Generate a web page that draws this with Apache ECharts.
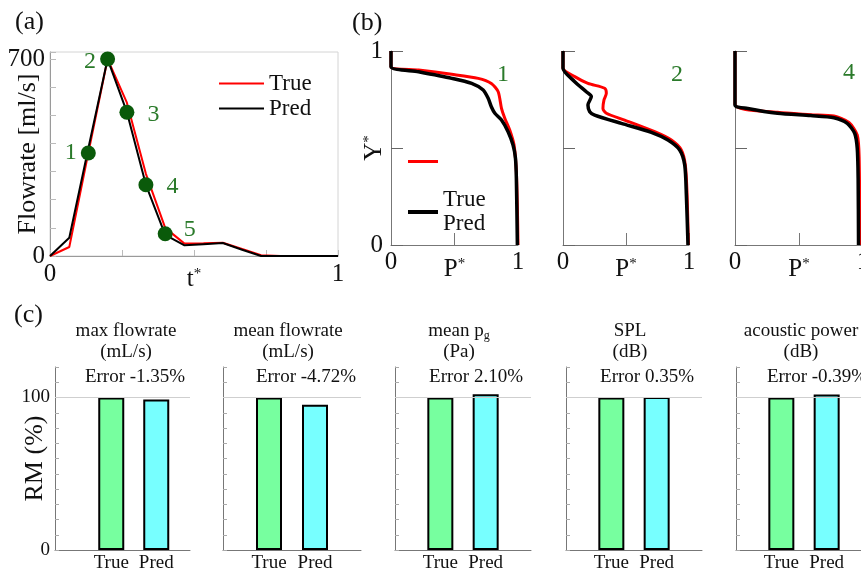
<!DOCTYPE html>
<html><head><meta charset="utf-8">
<script src="https://cdn.jsdelivr.net/npm/echarts@6/dist/echarts.min.js"></script>
<style>html,body{margin:0;padding:0;background:#fff}#c{width:861px;height:572px}</style>
</head><body><div id="c"></div>
<script>
// ================= DATA =================
// (a) flowrate waveform
const tVals     = [0, 0.067, 0.133, 0.2, 0.267, 0.333, 0.4, 0.467, 0.533, 0.6, 0.667, 0.733, 0.8, 0.867, 0.933, 1];
const flowTrue  = [0, 32, 366, 700, 545, 292, 100, 44, 45, 47, 25, 3, 0, 0, 0, 0];
const flowPred  = [0, 65, 382, 700, 511, 253, 75, 38, 42, 46, 22, 0, 0, 0, 0, 0];
const ptT       = [0.133, 0.2, 0.267, 0.333, 0.4];
const ptQ       = [366, 700, 511, 253, 79];
const ptNames   = ['1', '2', '3', '4', '5'];
const flowTicks = [0, 700];

// (b) pressure profiles  P* (x) vs Y* (y)
const prof1TrueP = [0, 0, 0.217, 0.478, 0.687, 0.79, 0.844, 0.87, 0.896, 0.935, 0.969, 0.987, 0.995, 1.0];
const prof1TrueY = [1, 0.919, 0.902, 0.88, 0.859, 0.833, 0.79, 0.704, 0.653, 0.593, 0.515, 0.378, 0.2, 0];
const prof1PredP = [0, 0, 0.217, 0.478, 0.635, 0.726, 0.765, 0.79, 0.818, 0.87, 0.922, 0.961, 0.98, 0.987, 0.995];
const prof1PredY = [1, 0.919, 0.893, 0.859, 0.833, 0.799, 0.756, 0.713, 0.679, 0.644, 0.584, 0.515, 0.447, 0.344, 0];

const prof2TrueP = [0, 0, 0.093, 0.198, 0.331, 0.344, 0.325, 0.317, 0.344, 0.489, 0.728, 0.86, 0.939, 0.971, 0.985, 0.995];
const prof2TrueY = [1, 0.911, 0.868, 0.833, 0.808, 0.782, 0.747, 0.704, 0.679, 0.644, 0.584, 0.541, 0.49, 0.412, 0.258, 0];
const prof2PredP = [0, 0, 0.093, 0.185, 0.225, 0.198, 0.212, 0.251, 0.463, 0.701, 0.833, 0.926, 0.966, 0.979, 0.992];
const prof2PredY = [1, 0.911, 0.842, 0.79, 0.765, 0.722, 0.687, 0.67, 0.627, 0.581, 0.541, 0.49, 0.412, 0.258, 0];

const prof4TrueP = [0, 0, 0.332, 0.591, 0.773, 0.89, 0.955, 0.97, 0.975];
const prof4TrueY = [1, 0.725, 0.684, 0.672, 0.665, 0.632, 0.567, 0.45, 0];
const prof4PredP = [0, 0, 0.099, 0.332, 0.591, 0.773, 0.877, 0.935, 0.955, 0.962, 0.965];
const prof4PredY = [1, 0.722, 0.704, 0.679, 0.667, 0.656, 0.627, 0.576, 0.498, 0.344, 0];
const profLabels = ['1', '2', '4'];

// (c) relative metrics
const metricTitles = ['max flowrate\n(mL/s)', 'mean flowrate\n(mL/s)', 'mean p{sub|g}\n(Pa)', 'SPL\n(dB)', 'acoustic power\n(dB)'];
const metricErrors = ['Error -1.35%', 'Error -4.72%', 'Error 2.10%', 'Error 0.35%', 'Error -0.39%'];
const rmTrue = [100, 100, 100, 100, 100];
const rmPred = [98.65, 95.28, 102.1, 100.35, 101.9];
const barCats = ['True', 'Pred'];
const rmTicks = [0, 100];

// ================= LAYOUT / STYLE =================
const FONT = 'Liberation Serif';
const RED = '#ff0000', BLACK = '#000000';
const GREEN_TXT = '#2a7a2a', GREEN_MK = '#0a5a0a';
const BAR_COLORS = ['#77ff9f', '#77ffff'];

const gridsA = [{left: 50, top: 52, width: 288, height: 204}];
const gridsB = [
  {left: 391, top: 51, width: 127, height: 194},
  {left: 563, top: 51, width: 126, height: 194},
  {left: 735, top: 51, width: 128, height: 194}
];
const gridsC = [
  {left: 55, top: 367, width: 135, height: 183},
  {left: 223, top: 367, width: 138, height: 183},
  {left: 395, top: 367, width: 136, height: 183},
  {left: 566, top: 367, width: 136, height: 183},
  {left: 736, top: 367, width: 136, height: 183}
];
// bar slots sit at 2 and 3 on each (c) x-axis; the axis window differs for the first panel
const barSlots = [2, 3];
const cXMin = [0.75, 1, 1, 1, 1];
const titleCX = [121, 283, 454, 625, 796];
const errorCX = [130, 301, 471, 642, 812];
const profLabelPos = [[498, 58], [672, 58], [844, 56]];
const ptLabelPos = ['left', 'left', 'right', 'right', 'right'];
const ptLabelDist = [4, 4, 13, 13, 11];
const ptLabelOff = [[0, 0], [0, 3], [0, 2], [0, 2], [0, -4]];

const supRich = {
  a: {fontFamily: FONT, fontSize: 25, color: '#111'},
  s: {fontFamily: FONT, fontSize: 15, color: '#111', verticalAlign: 'top', padding: [0, 0, 6, 0]}
};
const near = (v, x) => Math.abs(v - x) < 1e-6;
const zip = (a, b) => a.map((v, i) => [v, b[i]]);

const grids = [], xAxes = [], yAxes = [], series = [], titles = [];
const gridBase = {outerBoundsMode: 'none', containLabel: false};

// ---------- (a) ----------
grids.push(Object.assign({}, gridBase, {show: true, borderColor: '#d4d4d4', borderWidth: 1}, gridsA[0]));
xAxes.push({
  gridIndex: 0, type: 'value', min: 0, max: 1, interval: 0.25,
  axisLine: {show: true, onZero: false, lineStyle: {color: '#9a9a9a', width: 1}},
  axisTick: {show: true, inside: true, length: 6, lineStyle: {color: '#bbb'}},
  splitLine: {show: false},
  axisLabel: {margin: 6, fontFamily: FONT, fontSize: 25, color: '#111',
    formatter: v => (near(v, 0) ? '0' : (near(v, 1) ? '1' : ''))},
  name: '{a|t}{s|*}', nameLocation: 'middle', nameGap: 11, nameMoveOverlap: false,
  nameTextStyle: {rich: supRich}
});
yAxes.push({
  gridIndex: 0, type: 'value', min: 0, max: 725, interval: 100,
  axisLine: {show: true, onZero: false, lineStyle: {color: '#9a9a9a', width: 1}},
  axisTick: {show: true, inside: true, length: 6, lineStyle: {color: '#bbb'}},
  splitLine: {show: false},
  axisLabel: {margin: 5, fontFamily: FONT, fontSize: 25, color: '#111',
    formatter: v => (flowTicks.some(t => near(v, t)) ? String(v) : '')},
  name: 'Flowrate [ml/s]', nameLocation: 'middle', nameGap: 9, nameMoveOverlap: false,
  nameTextStyle: {fontFamily: FONT, fontSize: 26, color: '#111'}
});
series.push({name: 'True', type: 'line', xAxisIndex: 0, yAxisIndex: 0, symbol: 'none',
  lineStyle: {color: RED, width: 2}, itemStyle: {color: RED}, data: zip(tVals, flowTrue), z: 2});
series.push({name: 'Pred', type: 'line', xAxisIndex: 0, yAxisIndex: 0, symbol: 'none',
  lineStyle: {color: BLACK, width: 2}, itemStyle: {color: BLACK}, data: zip(tVals, flowPred), z: 3});
series.push({name: 'points', type: 'scatter', xAxisIndex: 0, yAxisIndex: 0, symbolSize: 15, z: 5,
  itemStyle: {color: GREEN_MK, opacity: 1},
  data: ptT.map((t, i) => ({value: [t, ptQ[i]], name: ptNames[i],
    label: {show: true, formatter: ptNames[i], position: ptLabelPos[i], distance: ptLabelDist[i], offset: ptLabelOff[i],
      fontFamily: FONT, fontSize: 24, color: GREEN_TXT}}))});

// ---------- (b) ----------
const profs = [
  [prof1TrueP, prof1TrueY, prof1PredP, prof1PredY],
  [prof2TrueP, prof2TrueY, prof2PredP, prof2PredY],
  [prof4TrueP, prof4TrueY, prof4PredP, prof4PredY]
];
gridsB.forEach((g, k) => {
  const gi = grids.length;
  grids.push(Object.assign({}, gridBase, {show: false}, g));
  xAxes.push({
    gridIndex: gi, type: 'value', min: 0, max: 1, interval: 0.5,
    axisLine: {show: true, onZero: false, lineStyle: {color: '#777', width: 1}},
    axisTick: {show: true, inside: true, length: 12, lineStyle: {color: '#777'}},
    splitLine: {show: false},
    axisLabel: {margin: 5, fontFamily: FONT, fontSize: 25, color: '#111',
      formatter: v => (near(v, 0) ? '0' : (near(v, 1) ? '1' : ''))},
    name: '{a|P}{s|*}', nameLocation: 'middle', nameGap: 12, nameMoveOverlap: false,
    nameTextStyle: {rich: supRich}
  });
  yAxes.push({
    gridIndex: gi, type: 'value', min: 0, max: 1, interval: 0.5,
    axisLine: {show: true, onZero: false, lineStyle: {color: '#777', width: 1}},
    axisTick: {show: true, inside: true, length: 12, lineStyle: {color: '#666'}},
    splitLine: {show: false},
    axisLabel: {show: k === 0, margin: 8, fontFamily: FONT, fontSize: 25, color: '#111',
      formatter: v => (near(v, 0) ? '0' : (near(v, 1) ? '1' : ''))},
    name: k === 0 ? '{a|Y}{s|*}' : '', nameLocation: 'middle', nameGap: 4, nameMoveOverlap: false,
    nameTextStyle: {rich: supRich}
  });
  const p = profs[k];
  series.push({name: 'True_b', type: 'line', xAxisIndex: gi, yAxisIndex: gi, symbol: 'none', smooth: 0.25,
    lineStyle: {color: RED, width: 3}, itemStyle: {color: RED}, data: zip(p[0], p[1]), z: 2});
  series.push({name: 'Pred_b', type: 'line', xAxisIndex: gi, yAxisIndex: gi, symbol: 'none', smooth: 0.25,
    lineStyle: {color: BLACK, width: 3.5}, itemStyle: {color: BLACK}, data: zip(p[2], p[3]), z: 3});
  titles.push({text: profLabels[k], left: profLabelPos[k][0], top: profLabelPos[k][1], textAlign: 'center',
    textStyle: {fontFamily: FONT, fontSize: 24, fontWeight: 'normal', color: GREEN_TXT}});
});

// ---------- (c) ----------
gridsC.forEach((g, k) => {
  const gi = grids.length;
  grids.push(Object.assign({}, gridBase, {show: false}, g));
  const xmin = cXMin[k];
  xAxes.push({
    gridIndex: gi, type: 'value', min: xmin, max: xmin + 3, interval: 0.25,
    axisLine: {show: true, onZero: false, lineStyle: {color: '#777', width: 1}},
    axisTick: {show: false}, splitLine: {show: false},
    axisLabel: {margin: 4, fontFamily: FONT, fontSize: 19, color: '#111',
      formatter: v => (near(v, barSlots[0]) ? barCats[0] : (near(v, barSlots[1]) ? barCats[1] : ''))}
  });
  yAxes.push({
    gridIndex: gi, type: 'value', min: 0, max: 120, interval: 10,
    axisLine: {show: true, onZero: false, lineStyle: {color: '#777', width: 1}},
    axisTick: {show: true, inside: true, length: 4, lineStyle: {color: '#aaa'}},
    splitLine: {show: false},
    axisLabel: {show: k === 0, margin: 5, fontFamily: FONT, fontSize: 19, color: '#111',
      formatter: v => (rmTicks.some(t => near(v, t)) ? String(v) : '')},
    name: k === 0 ? 'RM (%)' : '', nameLocation: 'middle', nameGap: 7, nameMoveOverlap: false,
    nameTextStyle: {fontFamily: FONT, fontSize: 26, color: '#111'}
  });
  series.push({
    name: 'RM' + k, type: 'bar', xAxisIndex: gi, yAxisIndex: gi, barWidth: 26,
    itemStyle: {borderColor: '#000', borderWidth: 2},
    data: [
      {value: [barSlots[0], rmTrue[k]], itemStyle: {color: BAR_COLORS[0]}},
      {value: [barSlots[1], rmPred[k]], itemStyle: {color: BAR_COLORS[1]}}
    ],
    markLine: {silent: true, symbol: 'none', label: {show: false},
      lineStyle: {color: '#cfcfcf', type: 'solid', width: 1}, data: [{yAxis: 100}]},
    z: 3
  });
  titles.push({text: metricTitles[k], left: titleCX[k], top: 316, textAlign: 'center',
    textStyle: {fontFamily: FONT, fontSize: 19, fontWeight: 'normal', color: '#111', lineHeight: 21,
      rich: {sub: {fontFamily: FONT, fontSize: 12, color: '#111', verticalAlign: 'bottom', padding: [6, 0, 0, 0]}}}});
  titles.push({text: metricErrors[k], left: errorCX[k], top: 362, textAlign: 'center',
    textStyle: {fontFamily: FONT, fontSize: 19, fontWeight: 'normal', color: '#111', lineHeight: 21}});
});

// panel letters
[['(a)', 10, 4], ['(b)', 347, 5], ['(c)', 9, 297]].forEach(([t, x, y]) => {
  titles.push({text: t, left: x, top: y, textStyle: {fontFamily: FONT, fontSize: 26, fontWeight: 'normal', color: '#111'}});
});

const legends = [
  {data: ['True', 'Pred'], orient: 'vertical', left: 214, top: 67, icon: 'rect', itemWidth: 45, itemHeight: 2, itemGap: 2,
    textStyle: {fontFamily: FONT, fontSize: 23, color: '#111'}, selectedMode: false},
  {data: ['True_b'], left: 403, top: 155, icon: 'rect', itemWidth: 30, itemHeight: 3, formatter: () => '',
    selectedMode: false},
  {data: ['Pred_b'], left: 403, top: 183, icon: 'rect', itemWidth: 30, itemHeight: 4, formatter: () => 'True\nPred',
    textStyle: {fontFamily: FONT, fontSize: 23, lineHeight: 24, color: '#111'}, selectedMode: false}
];

const chart = echarts.init(document.getElementById('c'), null, {renderer: 'canvas'});
chart.setOption({
  backgroundColor: '#fff',
  animation: false,
  title: titles,
  legend: legends,
  grid: grids,
  xAxis: xAxes,
  yAxis: yAxes,
  series: series
});
</script>
</body></html>
